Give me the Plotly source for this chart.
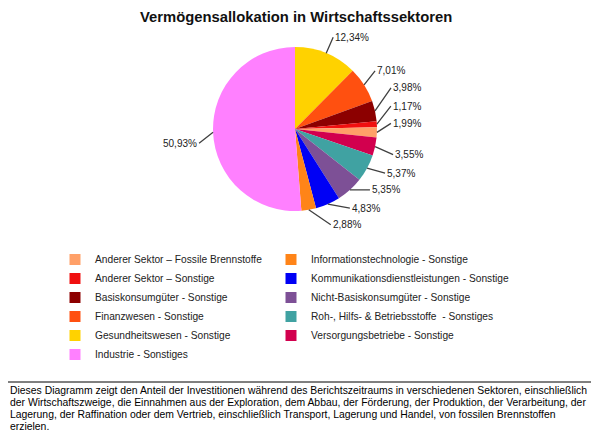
import math

import plotly.graph_objects as go

# slices in the order they are drawn (clockwise from 12 o'clock)
sectors = ["Gesundheitswesen - Sonstige",
           "Finanzwesen - Sonstige",
           "Basiskonsumgüter - Sonstige",
           "Anderer Sektor – Sonstige",
           "Anderer Sektor – Fossile Brennstoffe",
           "Versorgungsbetriebe - Sonstige",
           "Roh-, Hilfs- & Betriebsstoffe  - Sonstiges",
           "Nicht-Basiskonsumgüter - Sonstige",
           "Kommunikationsdienstleistungen - Sonstige",
           "Informationstechnologie - Sonstige",
           "Industrie - Sonstiges"]
shares = [12.34, 7.01, 3.98, 1.17, 1.99, 3.55, 5.37, 5.35, 4.83, 2.88, 50.93]
colors = ["#FFD200", "#FF5010", "#8C0000", "#F01010", "#FFA068", "#D2004E",
          "#40A2A2", "#7D5096", "#0000F5", "#FF8418", "#FF80FF"]

title = "Vermögensallokation in Wirtschaftssektoren"
footnote = ["Dieses Diagramm zeigt den Anteil der Investitionen während des Berichtszeitraums in verschiedenen Sektoren, einschließlich",
            "der Wirtschaftszweige, die Einnahmen aus der Exploration, dem Abbau, der Förderung, der Produktion, der Verarbeitung, der",
            "Lagerung, der Raffination oder dem Vertrieb, einschließlich Transport, Lagerung und Handel, von fossilen Brennstoffen",
            "erzielen."]

W, H = 599, 433
OFF = 8  # the page body adds an 8px margin around the figure
FONT = "Liberation Sans, Arial, sans-serif"

# pie geometry in (screen) pixels
cx, cy, rad = 295, 129, 82

# label offsets (pixels) from the slice edge to the label, same order as sectors
label_offsets = [(9, -16), (13, -14), (18, -23), (16, -18), (16, -9), (20, 8),
                 (20, 5), (22, 0), (24, 4), (24, 15), (-16, 11)]


def px(x):
    return (x - OFF) / W


def py(y):
    return 1 - (y - OFF) / H


fig = go.Figure()

fig.add_trace(go.Pie(labels=sectors, values=shares,
                     marker=dict(colors=colors, line=dict(width=0)),
                     sort=False, direction="clockwise", rotation=0,
                     textinfo="none", hoverinfo="label+percent",
                     showlegend=False,
                     domain=dict(x=[px(cx - rad), px(cx + rad)],
                                 y=[py(cy + rad), py(cy - rad)])))

# legend: alphabetical, two columns filled top to bottom
legend_sorted = sorted(sectors)
n_rows = math.ceil(len(legend_sorted) / 2)
for i, name in enumerate(legend_sorted):
    fig.add_trace(go.Scatter(x=[None], y=[None], mode="markers", name=name,
                             legend="legend" if i < n_rows else "legend2",
                             marker=dict(symbol="square", size=11,
                                         color=colors[sectors.index(name)],
                                         line=dict(width=0)),
                             hoverinfo="skip"))

# percentage labels with leader lines
total = sum(shares)
annotations = []
cum = 0
for val, (dx, dy) in zip(shares, label_offsets):
    mid = (cum + val / 2) / total * 2 * math.pi
    cum += val
    tx = cx + rad * math.sin(mid)
    ty = cy - rad * math.cos(mid)
    annotations.append(dict(x=px(tx), y=py(ty), xref="paper", yref="paper",
                            text=f"{val:.2f}".replace(".", ",") + "%",
                            showarrow=True, arrowhead=0, arrowwidth=1.3,
                            arrowcolor="#404040", standoff=0,
                            ax=dx - 2 if dx > 0 else dx + 2, ay=dy,
                            xanchor="left" if dx > 0 else "right",
                            yanchor="middle",
                            font=dict(family=FONT, size=10, color="#222222")))

annotations.append(dict(x=px(296), y=1, xref="paper", yref="paper",
                        text=f"<b>{title}</b>", showarrow=False,
                        xanchor="center", yanchor="top", borderpad=0,
                        font=dict(family=FONT, size=14.8, color="#111111")))

for i, line in enumerate(footnote):
    annotations.append(dict(x=px(OFF), y=py(390 + i * 12.2), xref="paper", yref="paper",
                            text=line, showarrow=False,
                            xanchor="left", yanchor="middle",
                            font=dict(family=FONT, size=10.4, color="#000000")))

legend_style = dict(orientation="v", yanchor="top", xanchor="left",
                    font=dict(family=FONT, size=10.2, color="#222222"),
                    bgcolor="rgba(0,0,0,0)", borderwidth=0)

fig.update_layout(
    width=W, height=H,
    margin=dict(l=0, r=0, t=0, b=0),
    paper_bgcolor="white", plot_bgcolor="white",
    xaxis=dict(visible=False, range=[0, 1]),
    yaxis=dict(visible=False, range=[0, 1]),
    annotations=annotations,
    shapes=[dict(type="line", xref="paper", yref="paper",
                 x0=px(OFF), x1=px(W + OFF), y0=py(382), y1=py(382),
                 line=dict(color="#000000", width=1))],
    showlegend=True,
    legend=dict(x=px(55), y=py(245), **legend_style),
    legend2=dict(x=px(271), y=py(245), **legend_style),
)

fig.write_html("out.html")
